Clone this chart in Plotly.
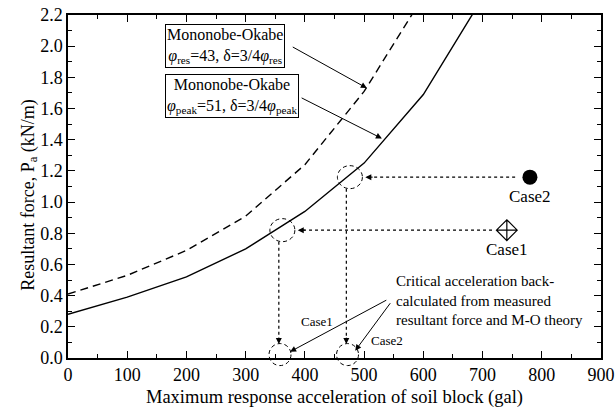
import plotly.graph_objects as go

# ---- data ----
accel = [0, 100, 200, 300, 400, 500, 600, 700]
pa_peak = [0.28, 0.39, 0.52, 0.70, 0.94, 1.25, 1.69, 2.31]
accel_res = [0, 100, 200, 300, 400, 500, 600]
pa_res = [0.41, 0.53, 0.69, 0.91, 1.24, 1.71, 2.32]

case_names = ["Case1", "Case2"]
case_meas_acc = [741, 780]        # measured response acceleration
case_meas_pa = [0.82, 1.16]       # measured resultant force
case_crit_acc = [358, 472]        # back-calculated critical acceleration

FONT = "Liberation Serif"

fig = go.Figure()
fig.add_trace(go.Scatter(x=accel_res, y=pa_res, mode="lines",
                         line=dict(color="black", width=1.4, dash="8px,5px"),
                         showlegend=False, hoverinfo="skip"))
fig.add_trace(go.Scatter(x=accel, y=pa_peak, mode="lines",
                         line=dict(color="black", width=1.4),
                         showlegend=False, hoverinfo="skip"))
fig.add_trace(go.Scatter(x=[case_meas_acc[0]], y=[case_meas_pa[0]], mode="markers",
                         marker=dict(symbol="diamond-cross-open", size=16,
                                     color="black", line=dict(width=1.2, color="black")),
                         showlegend=False, hoverinfo="skip"))
fig.add_trace(go.Scatter(x=[case_meas_acc[1]], y=[case_meas_pa[1]], mode="markers",
                         marker=dict(symbol="circle", size=15, color="black"),
                         showlegend=False, hoverinfo="skip"))

shapes = []
annotations = []

for i in range(2):
    xc, yc, xm = case_crit_acc[i], case_meas_pa[i], case_meas_acc[i]
    # dashed circle on the curve
    shapes.append(dict(type="circle", xref="x", yref="y",
                       xsizemode="pixel", ysizemode="pixel",
                       xanchor=xc + 4, yanchor=yc,
                       x0=-12.5, x1=12.5, y0=-11.5, y1=11.5,
                       line=dict(color="black", width=1, dash="4px,3px")))
    # dashed circle at the x axis
    shapes.append(dict(type="circle", xref="x", yref="paper",
                       xsizemode="pixel", ysizemode="pixel",
                       xanchor=xc, yanchor=0.01,
                       x0=-11, x1=11, y0=-11, y1=11,
                       line=dict(color="black", width=1, dash="4px,3px")))
    # horizontal dotted line from measurement to circle
    shapes.append(dict(type="line", xref="x", yref="y",
                       x0=xm - 25, x1=xc + 36, y0=yc, y1=yc,
                       line=dict(color="black", width=1.2, dash="dot")))
    annotations.append(dict(x=xc + 30, y=yc, ax=xc + 45, ay=yc,
                            xref="x", yref="y", axref="x", ayref="y",
                            text="", showarrow=True, arrowhead=2,
                            arrowsize=1.2, arrowwidth=1, arrowcolor="black"))
    # vertical dotted line down to the axis
    shapes.append(dict(type="line", xref="x", yref="y",
                       x0=xc - 2, x1=xc - 2, y0=yc - 0.075, y1=0.12,
                       line=dict(color="black", width=1.2, dash="dot")))
    annotations.append(dict(x=xc - 2, y=0.09, ax=xc - 2, ay=0.14,
                            xref="x", yref="y", axref="x", ayref="y",
                            text="", showarrow=True, arrowhead=2,
                            arrowsize=1.2, arrowwidth=1, arrowcolor="black"))
    # label below measurement marker
    annotations.append(dict(x=xm, y=case_meas_pa[i], xref="x", yref="y",
                            text=case_names[i], showarrow=False,
                            yshift=-19, font=dict(family=FONT, size=17, color="black")))

# small labels near the bottom
annotations.append(dict(x=421, y=0.233, xref="x", yref="y", text="Case1",
                        showarrow=False, font=dict(family=FONT, size=13, color="black")))
annotations.append(dict(x=538, y=0.115, xref="x", yref="y", text="Case2",
                        showarrow=False, font=dict(family=FONT, size=13, color="black")))

# critical acceleration note
annotations.append(dict(x=551, y=0.56, xref="x", yref="y", xanchor="left", yanchor="top",
                        text="Critical acceleration back-<br>calculated from measured<br>resultant force and M-O theory",
                        align="left", showarrow=False,
                        font=dict(family=FONT, size=15, color="black")))
annotations.append(dict(x=375, y=0.04, ax=540, ay=0.376,
                        xref="x", yref="y", axref="x", ayref="y",
                        text="", showarrow=True, arrowhead=2, arrowsize=1.2,
                        arrowwidth=1, arrowcolor="black"))
annotations.append(dict(x=485, y=0.047, ax=546, ay=0.361,
                        xref="x", yref="y", axref="x", ayref="y",
                        text="", showarrow=True, arrowhead=2, arrowsize=1.2,
                        arrowwidth=1, arrowcolor="black"))

# Mononobe-Okabe boxes
annotations.append(dict(x=163, y=2.14, xref="x", yref="y", xanchor="left", yanchor="top",
                        text="Mononobe-Okabe<br><i>φ</i><sub>res</sub>=43, δ=3/4<i>φ</i><sub>res</sub>",
                        showarrow=False, bordercolor="black", borderwidth=1, borderpad=1,
                        bgcolor="white", font=dict(family=FONT, size=16, color="black")))
annotations.append(dict(x=163, y=1.82, xref="x", yref="y", xanchor="left", yanchor="top",
                        text="Mononobe-Okabe<br><i>φ</i><sub>peak</sub>=51, δ=3/4<i>φ</i><sub>peak</sub>",
                        showarrow=False, bordercolor="black", borderwidth=1, borderpad=1,
                        bgcolor="white", font=dict(family=FONT, size=16, color="black")))
annotations.append(dict(x=504.6, y=1.731, ax=377, ay=2.0,
                        xref="x", yref="y", axref="x", ayref="y",
                        text="", showarrow=True, arrowhead=2, arrowsize=1.2,
                        arrowwidth=1, arrowcolor="black"))
annotations.append(dict(x=530, y=1.408, ax=392, ay=1.673,
                        xref="x", yref="y", axref="x", ayref="y",
                        text="", showarrow=True, arrowhead=2, arrowsize=1.2,
                        arrowwidth=1, arrowcolor="black"))

# y axis title as an annotation (for exact placement)
annotations.append(dict(x=-0.099, y=0.475, xref="paper", yref="paper",
                        text="Resultant force, P<sub>a</sub> (kN/m)", textangle=-90,
                        showarrow=False, font=dict(family=FONT, size=18, color="black")))

axis_common = dict(showline=True, linecolor="black", linewidth=1.5, mirror="ticks",
                   ticks="inside", ticklen=7, tickwidth=1.2, tickcolor="black",
                   showgrid=False, zeroline=False, automargin=False,
                   tickfont=dict(family=FONT, size=18, color="black"))

fig.update_layout(
    width=616, height=414,
    margin=dict(l=68, r=15, t=15, b=56),
    paper_bgcolor="white", plot_bgcolor="white",
    font=dict(family=FONT, color="black"),
    shapes=shapes, annotations=annotations,
    xaxis=dict(range=[0, 900], dtick=100, tick0=0,
               minor=dict(ticks="inside", ticklen=4, dtick=50, tickcolor="black"),
               title=dict(text="Maximum response acceleration of soil block (gal)",
                          font=dict(family=FONT, size=18.5, color="black"), standoff=6),
               **axis_common),
    yaxis=dict(range=[0, 2.2], dtick=0.2, tick0=0, tickformat=".1f",
               minor=dict(ticks="inside", ticklen=4, dtick=0.1, tickcolor="black"),
               **axis_common),
)

fig.write_html("out.html", post_script="document.body.style.margin='0';",
               config={"displayModeBar": False})
